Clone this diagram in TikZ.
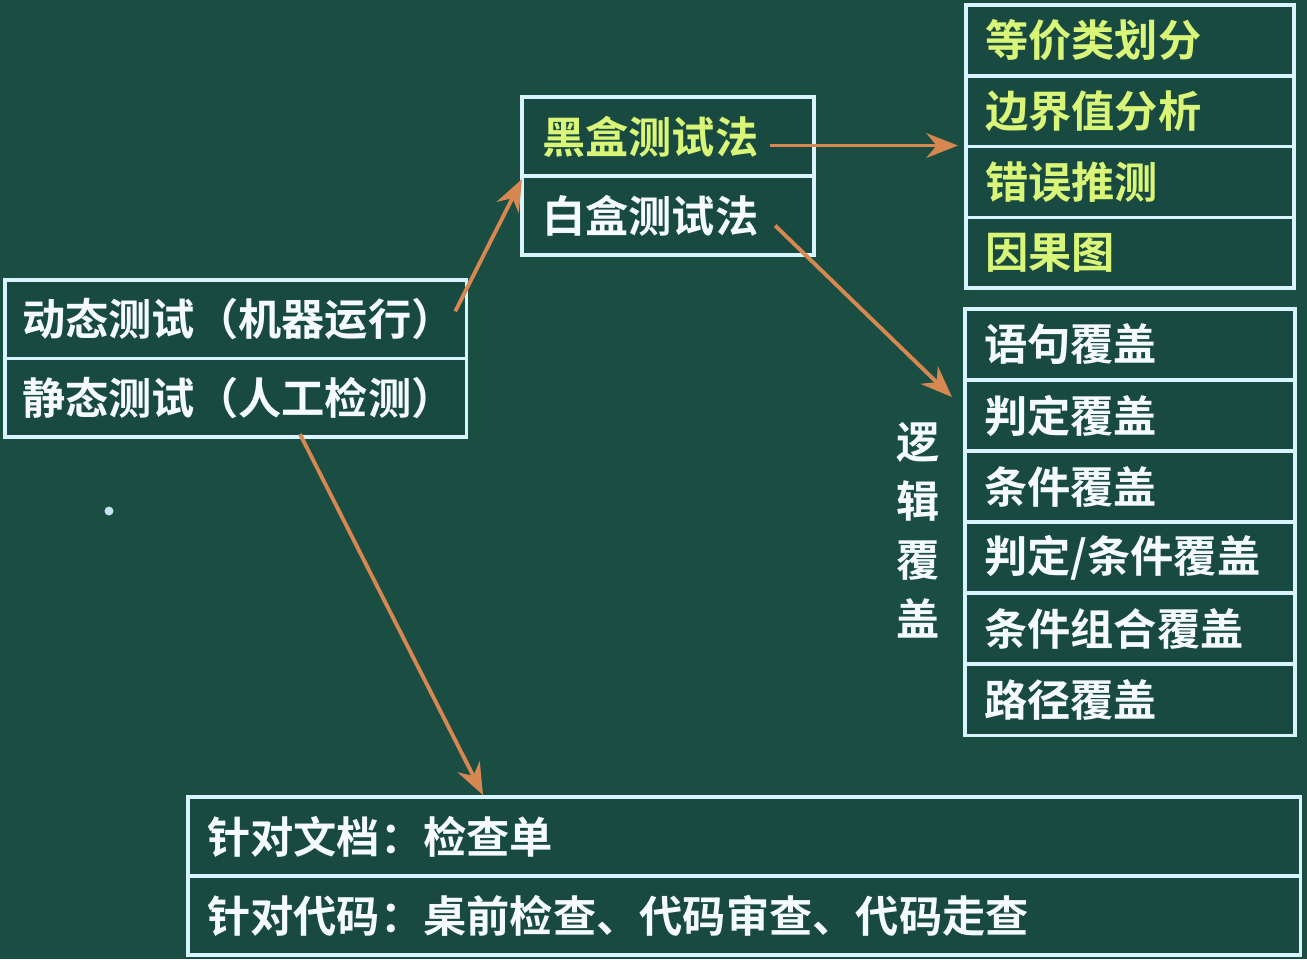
\documentclass[tikz,border=0pt]{standalone}
\usepackage{fontspec}
\newfontfamily\cjk{Noto Sans CJK SC}[BoldFont={Noto Sans CJK SC Bold}]
\usetikzlibrary{calc,arrows.meta}
\definecolor{board}{RGB}{26,78,67}
\definecolor{cellbg}{RGB}{24,74,66}
\definecolor{framec}{RGB}{215,244,255}
\definecolor{txtw}{RGB}{244,250,255}
\definecolor{txty}{RGB}{218,246,120}
\definecolor{arrowc}{RGB}{214,136,80}
\tikzset{
  cell/.style={draw=framec, line width=1pt, fill=cellbg, anchor=north west,
    outer sep=0pt, align=left, inner ysep=0pt, text=txtw,
    font=\cjk\bfseries\fontsize{12.3}{14}\selectfont},
  leftcell/.style={cell, inner xsep=0.17cm, text width=4.27cm, minimum height=0.785cm},
  methcell/.style={cell, inner xsep=0.20cm, text width=2.52cm, minimum height=0.79cm},
  bbcell/.style={cell, inner xsep=0.19cm, text width=2.90cm, minimum height=0.7075cm, text=txty},
  wbcell/.style={cell, inner xsep=0.19cm, text width=2.92cm, minimum height=0.71cm},
  staticcell/.style={cell, inner xsep=0.19cm, text width=10.74cm, minimum height=0.79cm},
  link/.style={draw=arrowc, line width=1.1pt, -{Stealth[length=9pt,width=7pt]}},
}
\begin{document}
\begin{tikzpicture}[x=0.01cm,y=-0.01cm]
  \useasboundingbox (0,0) rectangle (1307,959);
  \fill[board] (0,0) rectangle (1307,959);

  % dynamic / static testing
  \node[leftcell] (dyn) at (5,280) {动态测试（机器运行）};
  \node[leftcell] (sta) at (dyn.south west) {静态测试（人工检测）};

  % black box / white box
  \node[methcell, text=txty] (bb) at (522,97) {黑盒测试法};
  \node[methcell] (wb) at (bb.south west) {白盒测试法};

  % black box techniques
  \node[bbcell] (eq) at (966,5) {等价类划分};
  \node[bbcell] (bv) at (eq.south west) {边界值分析};
  \node[bbcell] (eg) at (bv.south west) {错误推测};
  \node[bbcell] (ce) at (eg.south west) {因果图};

  % white box: logic coverage
  \node[wbcell] (sc) at (965,309) {语句覆盖};
  \node[wbcell] (dc) at (sc.south west) {判定覆盖};
  \node[wbcell] (cc) at (dc.south west) {条件覆盖};
  \node[wbcell] (dcc) at (cc.south west) {判定/条件覆盖};
  \node[wbcell] (mcc) at (dcc.south west) {条件组合覆盖};
  \node[wbcell] (pc) at (mcc.south west) {路径覆盖};
  \node[text=txtw, align=center, font=\cjk\bfseries\fontsize{12.3}{16.8}\selectfont]
    (logic) at (918,530) {逻\\辑\\覆\\盖};

  % static testing
  \node[staticcell] (doc) at (188,797) {针对文档：检查单};
  \node[staticcell] (code) at (doc.south west) {针对代码：桌前检查、代码审查、代码走查};

  % small chalk dot
  \fill[framec!90!board] (109,511) circle[radius=4.5];

  % connectors
  \coordinate (bbstart) at ($(bb.east)+(-44,9)$);
  \draw[link] ($(dyn.east)+(-11,-8)$) -- ($(wb.north west)+(0,3)$);
  \draw[link] (bbstart) -- ($(bbstart -| eq.west)+(-8,0)$);
  \draw[link] ($(wb.east)+(-39,10)$) -- ($(dc.north west)+(-13,17)$);
  \draw[link] ($(sta.south west)+(295,-3)$) -- ($(doc.north west)+(295,-2)$);
\end{tikzpicture}
\end{document}
